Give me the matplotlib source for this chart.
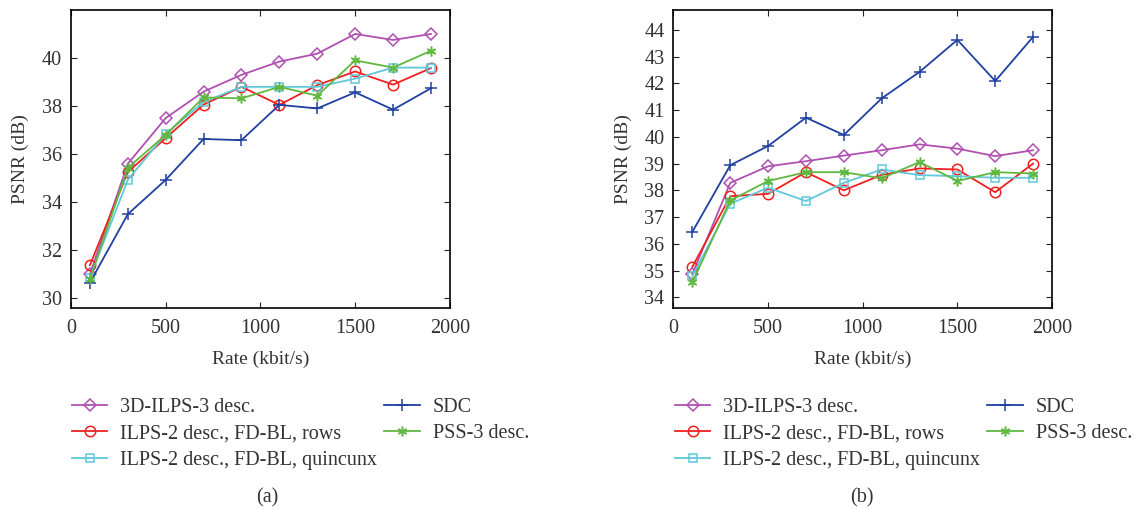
import numpy as np
import matplotlib
matplotlib.use('Agg')
import matplotlib.pyplot as plt

plt.rcParams['font.family'] = ['Liberation Serif', 'DejaVu Serif']

# data
rate = [100, 300, 500, 700, 900, 1100, 1300, 1500, 1700, 1900]

labels = ['3D-ILPS-3 desc.', 'ILPS-2 desc., FD-BL, rows', 'ILPS-2 desc., FD-BL, quincunx',
          'SDC', 'PSS-3 desc.']

# (a)
a_ilps3 = [31.0, 35.6, 37.5, 38.6, 39.3, 39.85, 40.18, 41.0, 40.75, 41.0]
a_rows = [31.38, 35.25, 36.67, 38.06, 38.8, 38.05, 38.87, 39.44, 38.89, 39.58]
a_quinc = [30.86, 34.93, 36.84, 38.17, 38.8, 38.8, 38.8, 39.14, 39.6, 39.6]
a_sdc = [30.65, 33.5, 34.93, 36.63, 36.58, 38.05, 37.9, 38.57, 37.85, 38.74]
a_pss = [30.8, 35.43, 36.8, 38.36, 38.32, 38.8, 38.43, 39.9, 39.6, 40.3]

# (b)
b_ilps3 = [34.87, 38.28, 38.9, 39.09, 39.3, 39.5, 39.72, 39.56, 39.28, 39.5]
b_rows = [35.14, 37.78, 37.87, 38.68, 38.0, 38.58, 38.82, 38.78, 37.93, 39.0]
b_quinc = [34.79, 37.5, 38.1, 37.6, 38.28, 38.78, 38.57, 38.53, 38.47, 38.47]
b_sdc = [36.45, 38.94, 39.66, 40.72, 40.07, 41.44, 42.43, 43.63, 42.09, 43.74]
b_pss = [34.56, 37.62, 38.35, 38.68, 38.68, 38.45, 39.06, 38.35, 38.68, 38.63]

colors = ['#b050b0', '#f02020', '#60c8d8', '#2040a0', '#60b840']
markers = ['D', 'o', 's', '+', (6, 2, 0)]
msizes = [6, 7.5, 6, 8, 7]

fig = plt.figure(figsize=(11.39, 5.09), dpi=100)
ax1 = fig.add_axes([0.0623, 0.395, 0.3327, 0.5855])
ax2 = fig.add_axes([0.5913, 0.395, 0.3323, 0.5855])

panels = [
    (ax1, [a_ilps3, a_rows, a_quinc, a_sdc, a_pss], (29.6, 42.0), np.arange(30, 41, 2), '(a)', 0.0632, 0.2345),
    (ax2, [b_ilps3, b_rows, b_quinc, b_sdc, b_pss], (33.6, 44.75), np.arange(34, 45, 1), '(b)', 0.5926, 0.757),
]

for ax, series, ylim, yticks, tag, legx, tagx in panels:
    handles = []
    for vals, c, m, ms, lab in zip(series, colors, markers, msizes, labels):
        h, = ax.plot(rate, vals, color=c, marker=m, markersize=ms, markerfacecolor='none',
                     markeredgecolor=c, markeredgewidth=1.1, linewidth=1.3, label=lab)
        handles.append(h)
    ax.set_xlim(0, 2000)
    ax.set_ylim(*ylim)
    ax.set_xticks([0, 500, 1000, 1500, 2000])
    ax.set_yticks(yticks)
    ax.tick_params(direction='in', top=True, right=True, labelsize=14.5, length=4,
                   colors='#222222', labelcolor='#333333')
    ax.tick_params(axis='x', pad=8)
    ax.tick_params(axis='y', pad=6.5)
    for sp in ax.spines.values():
        sp.set_linewidth(1.2)
    ax.set_xlabel('Rate (kbit/s)', fontsize=14, labelpad=9, color='#333333')
    ax.set_ylabel('PSNR (dB)', fontsize=14, labelpad=9, color='#333333')
    fig.legend(handles=handles, loc='upper left', bbox_to_anchor=(legx, 0.219),
               ncol=2, frameon=False, fontsize=14.5, handlelength=1.75, handletextpad=0.65,
               columnspacing=0.35, labelspacing=0.38, borderpad=0, borderaxespad=0,
               numpoints=1, labelcolor='#333333')
    fig.text(tagx, 0.022, tag, ha='center', va='center', fontsize=14.5, color='#333333')

fig.savefig('out.png', dpi=100)
